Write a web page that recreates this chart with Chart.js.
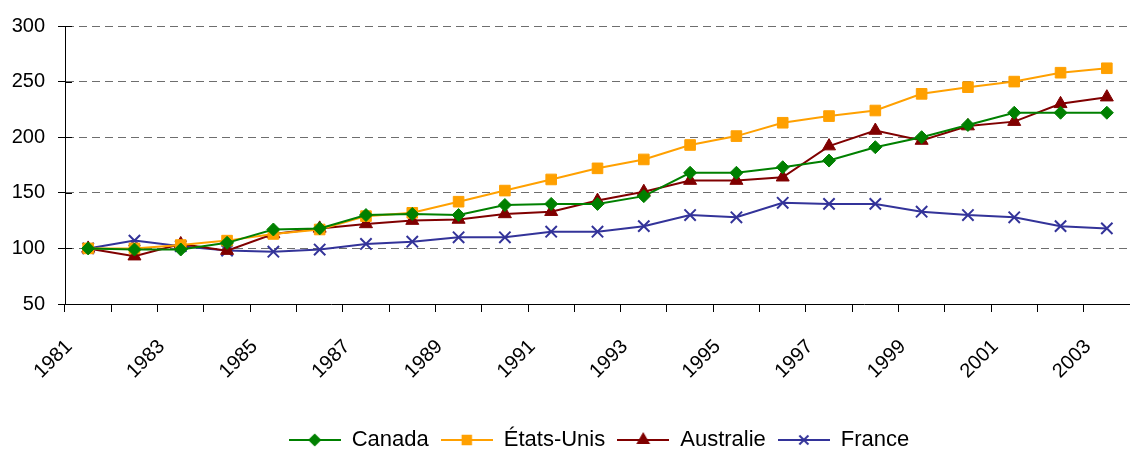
<!DOCTYPE html>
<html>
<head>
<meta charset="utf-8">
<script src="https://cdn.jsdelivr.net/npm/chart.js@4/dist/chart.umd.min.js"></script>
<style>
  html, body { margin: 0; padding: 0; background: #fff; overflow: hidden; }
  /* a little wider than the window: the x scale keeps ~10px of room on its right */
  #wrap { width: 1140px; height: 452px; position: relative; }
</style>
</head>
<body>
<div id="wrap"><canvas id="chart"></canvas></div>
<script>
// Values (index, 1981 = 100)
const years = ['1981', '1982', '1983', '1984', '1985', '1986', '1987', '1988', '1989', '1990', '1991', '1992',
               '1993', '1994', '1995', '1996', '1997', '1998', '1999', '2000', '2001', '2002', '2003'];
const canada    = [100, 99, 99, 105, 117, 118, 130, 131, 130, 139, 140, 140, 147, 168, 168, 173, 179, 191, 200, 211, 222, 222, 222];
const etatsUnis = [100, 100, 103, 107, 113, 117, 129, 132, 142, 152, 162, 172, 180, 193, 201, 213, 219, 224, 239, 245, 250, 258, 262];
const australie = [100, 93, 104, 98, 113, 118, 122, 125, 126, 131, 133, 143, 151, 161, 161, 164, 192, 206, 197, 210, 214, 230, 236];
const france    = [100, 107, 102, 98, 97, 99, 104, 106, 110, 110, 115, 115, 120, 130, 128, 141, 140, 140, 133, 130, 128, 120, 118];
const yTicks = [50, 100, 150, 200, 250, 300];

const FONT = "'Liberation Sans', Arial, sans-serif";
Chart.defaults.font.family = FONT;
Chart.defaults.color = '#000';

const series = [
    { label: 'Canada',     data: canada,    color: '#008000', style: 'rectRot',  radius: 6.5 },
    { label: 'États-Unis', data: etatsUnis, color: '#FFA000', style: 'rect',     radius: 7.5 },
    { label: 'Australie',  data: australie, color: '#800000', style: 'triangle', radius: 7.5 },
    { label: 'France',     data: france,    color: '#333399', style: 'crossRot', radius: 8 }
];

// legend icon: short line with the marker in the middle
function legendIcon(s) {
    const c = document.createElement('canvas');
    c.width = 52; c.height = 18;
    const g = c.getContext('2d');
    g.strokeStyle = s.color;
    g.fillStyle = s.color;
    g.lineWidth = 2;
    g.beginPath();
    g.moveTo(0, 9);
    g.lineTo(52, 9);
    g.stroke();
    Chart.helpers.drawPoint(g, { pointStyle: s.style, radius: s.radius * 0.8, rotation: 0, borderWidth: 1.5 }, 26, 9);
    return c;
}
const icons = series.map(legendIcon);

// Excel-style "cross" tick marks on the value axis + legend centring shift
const extras = {
    id: 'extras',
    afterLayout(chart) {
        const lg = chart.legend;
        if (lg) { lg.left += 29; lg.right += 29; }
    },
    afterDraw(chart) {
        const y = chart.scales.y;
        const ctx = chart.ctx;
        ctx.save();
        ctx.strokeStyle = '#000';
        ctx.lineWidth = 1;
        yTicks.forEach(v => {
            const py = Math.round(y.getPixelForValue(v)) + 0.5;
            ctx.beginPath();
            ctx.moveTo(chart.chartArea.left, py);
            ctx.lineTo(chart.chartArea.left + 7, py);
            ctx.stroke();
        });
        ctx.restore();
    }
};

new Chart(document.getElementById('chart'), {
    type: 'line',
    data: {
        labels: years,
        datasets: series.map(s => ({
            label: s.label,
            data: s.data,
            borderColor: s.color,
            backgroundColor: s.color,
            borderWidth: 2,
            pointStyle: s.style,
            pointRadius: s.radius,
            pointHoverRadius: s.radius,
            pointBorderWidth: s.style === 'crossRot' ? 2 : 1,
            tension: 0
        }))
    },
    options: {
        responsive: true,
        maintainAspectRatio: false,
        animation: false,
        layout: { padding: { top: 26, right: 0, left: 0, bottom: -9 } },
        scales: {
            x: {
                offset: true,
                grid: { offset: true, drawOnChartArea: false, tickLength: 8, color: '#000' },
                border: { color: '#000', width: 1 },
                ticks: {
                    autoSkip: false,
                    minRotation: 45,
                    maxRotation: 45,
                    labelOffset: -19,
                    padding: 23,
                    font: { size: 20 },
                    callback: function (value, index) {
                        return index % 2 === 0 ? this.getLabelForValue(value) : '';
                    }
                },
                afterFit(scale) {
                    scale.height = 113;
                    scale.paddingLeft = 0;
                    scale.paddingRight = 0;
                }
            },
            y: {
                min: 50,
                max: 300,
                grid: {
                    color: ctx => (ctx.tick && ctx.tick.value === 50 ? 'rgba(0,0,0,0)' : '#6e6e6e'),
                    tickColor: '#000',
                    tickLength: 7
                },
                border: { color: '#000', width: 1, dash: [8, 5] },
                ticks: { stepSize: 50, padding: 13, font: { size: 20 } },
                afterFit(scale) { scale.width = 65; }
            }
        },
        plugins: {
            legend: {
                position: 'bottom',
                labels: {
                    usePointStyle: true,
                    pointStyleWidth: 52,
                    padding: 12,
                    font: { size: 22 },
                    generateLabels(chart) {
                        const items = Chart.defaults.plugins.legend.labels.generateLabels(chart);
                        items.forEach((it, i) => { it.pointStyle = icons[i]; });
                        return items;
                    }
                }
            },
            tooltip: { enabled: false }
        }
    },
    plugins: [extras]
});
</script>
</body>
</html>
